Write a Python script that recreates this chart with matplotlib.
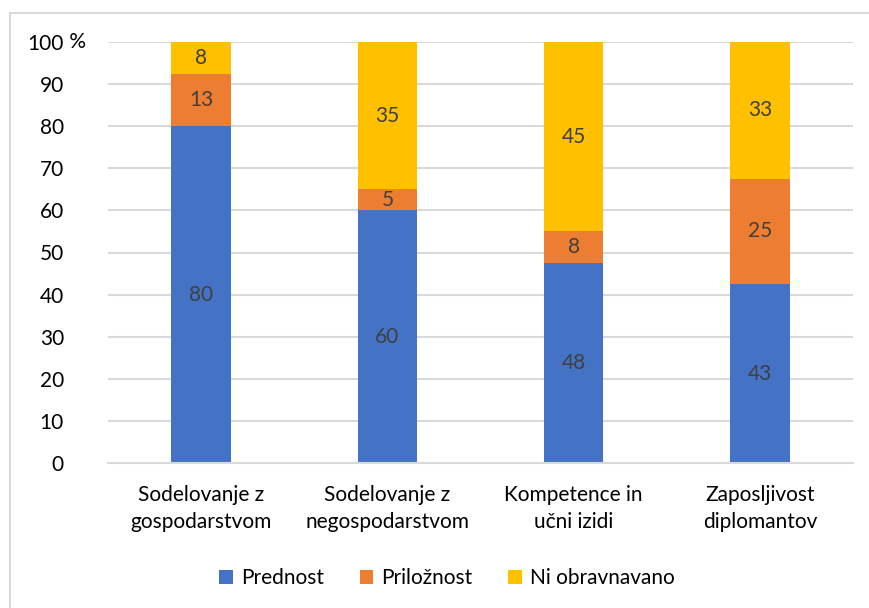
import matplotlib
matplotlib.use("Agg")
import matplotlib.pyplot as plt
from matplotlib.lines import Line2D
import numpy as np

plt.rcParams['font.family'] = ['Lato', 'DejaVu Sans']

categories = ["Sodelovanje z\ngospodarstvom", "Sodelovanje z\nnegospodarstvom",
              "Kompetence in\nučni izidi", "Zaposljivost\ndiplomantov"]
prednost = [80, 60, 47.5, 42.5]
priloznost = [12.5, 5, 7.5, 25]
ni_obravnavano = [7.5, 35, 45, 32.5]
series_names = ["Prednost", "Priložnost", "Ni obravnavano"]
colors = ["#4472C4", "#ED7D31", "#FFC000"]
yticks = [0, 10, 20, 30, 40, 50, 60, 70, 80, 90, 100]
ytick_labels = ["0", "10", "20", "30", "40", "50", "60", "70", "80", "90", "100"]
pct_suffix = " %"

FS = 15

fig = plt.figure(figsize=(8.7, 6.08), dpi=100)
ax = fig.add_axes([108/870, 1-463/608, (853-108)/870, (463-42)/608])

x = np.arange(len(categories))
bottom = np.zeros(len(categories))
for vals, name, col in zip([prednost, priloznost, ni_obravnavano], series_names, colors):
    vals = np.array(vals, dtype=float)
    ax.bar(x, vals, 0.32, bottom=bottom, color=col, label=name, zorder=3)
    for xi, b, v in zip(x, bottom, vals):
        ax.text(xi, b + v/2, str(int(np.floor(v + 0.5))), ha='center', va='center',
                fontsize=FS, color='#404040', zorder=4)
    bottom += vals

ax.set_xlim(-0.5, 3.5)
ax.set_ylim(0, 100)
ax.set_yticks(yticks)
ax.set_yticklabels(ytick_labels)
ax.set_xticks(x)
ax.set_xticklabels(categories, linespacing=1.45)
ypad_pt = (108 - 64) * 0.72
ax.tick_params(axis='y', length=0, pad=ypad_pt, labelsize=FS, labelcolor='black')
ax.tick_params(axis='x', length=0, pad=16, labelsize=FS, labelcolor='black')
# percent sign after the top label
ax.annotate(pct_suffix, xy=(0, yticks[-1]), xycoords=('axes fraction', 'data'),
            xytext=(-ypad_pt, 0), textcoords='offset points', ha='left', va='center',
            fontsize=FS, color='black')
ax.grid(axis='y', color='#d9d9d9', linewidth=1.5, zorder=0)
for s in ['top', 'right', 'left']:
    ax.spines[s].set_visible(False)
ax.spines['bottom'].set_color('#d9d9d9')
ax.spines['bottom'].set_linewidth(1.5)
ax.spines['bottom'].set_zorder(5)

leg = fig.legend(loc='center', bbox_to_anchor=(447/870, 1-578/608), ncol=3, frameon=False,
                 fontsize=FS, handlelength=0.65, handleheight=0.65, handletextpad=0.4,
                 columnspacing=1.7)

# outer chart border (top and left visible)
fig.add_artist(Line2D([10/870, 10/870], [0, 1-13/608], transform=fig.transFigure,
                      color='#d9d9d9', linewidth=1.5))
fig.add_artist(Line2D([10/870, 1], [1-13/608, 1-13/608], transform=fig.transFigure,
                      color='#d9d9d9', linewidth=1.5))

fig.savefig("out.png", dpi=100)
